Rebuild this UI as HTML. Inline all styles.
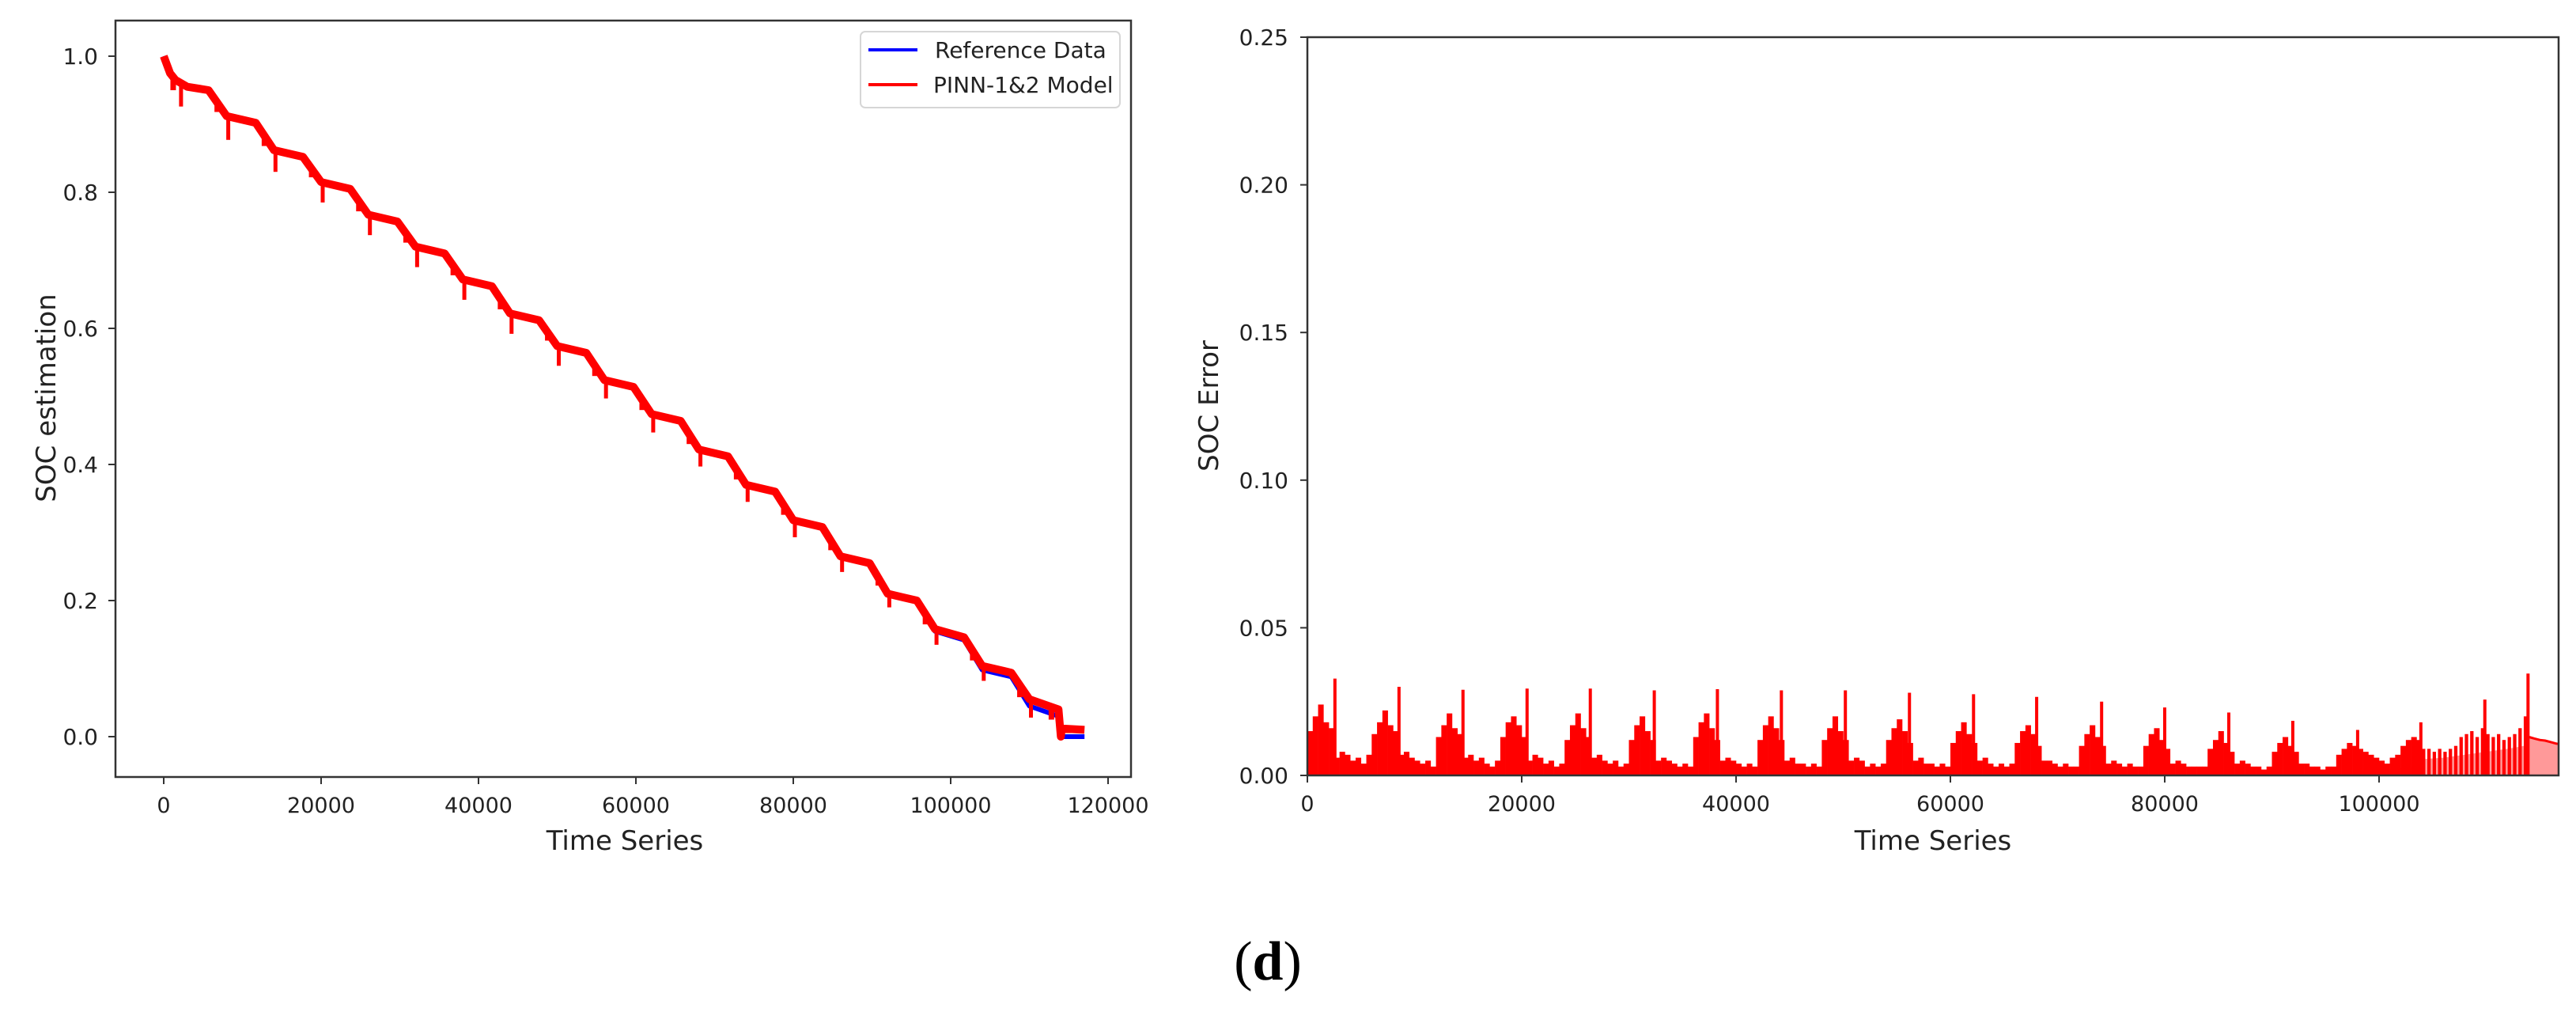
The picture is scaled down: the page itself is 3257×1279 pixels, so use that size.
<!DOCTYPE html>
<html><head><meta charset="utf-8"><style>
html,body{margin:0;padding:0;background:#fff;}
svg{display:block;font-family:"DejaVu Sans","Liberation Sans",sans-serif;}
</style></head><body>
<svg id="fig" width="3257" height="1279" viewBox="0 0 3257 1279" xmlns="http://www.w3.org/2000/svg">
<rect width="3257" height="1279" fill="#fff"/>
<g id="left"></g>
<g id="right"></g>
<text x="1603" y="1238" text-anchor="middle" font-family="Liberation Serif, serif" font-size="70"><tspan>(</tspan><tspan font-weight="bold">d</tspan><tspan>)</tspan></text>
</svg>
<script>
// ---------- Left chart data ----------
const refX = [0,800,1500,3000,5700,8000,11700,14000,17700,20000,23700,26000,29700,32000,35700,38000,41700,44000,47700,50000,53700,56000,59700,62000,65700,68000,71700,74000,77700,80000,83700,86000,89700,92000,95700,98000,101700,104000,107700,110000,113700,114000,117000];
const refY = [1.0,0.975,0.965,0.955,0.95,0.912,0.902,0.862,0.852,0.815,0.805,0.767,0.757,0.72,0.71,0.672,0.662,0.622,0.612,0.574,0.564,0.524,0.514,0.474,0.464,0.422,0.412,0.37,0.36,0.318,0.308,0.265,0.255,0.21,0.2,0.155,0.142,0.098,0.088,0.045,0.03,0.0,0.0];
const predX = [0,800,1500,3000,5700,8000,11700,14000,17700,20000,23700,26000,29700,32000,35700,38000,41700,44000,47700,50000,53700,56000,59700,62000,65700,68000,71700,74000,77700,80000,83700,86000,89700,92000,95700,98000,101700,104000,107700,110000,113700,114000,114100,117000];
const predY = [1.0,0.975,0.965,0.955,0.95,0.912,0.902,0.862,0.852,0.815,0.805,0.767,0.757,0.72,0.71,0.672,0.662,0.622,0.612,0.574,0.564,0.524,0.514,0.474,0.464,0.422,0.412,0.37,0.36,0.318,0.308,0.265,0.255,0.21,0.2,0.158,0.146,0.104,0.094,0.055,0.04,0.0,0.012,0.01];
const dipX = [2200,8200,14200,20200,26200,32200,38200,44200,50200,56200,62200,68200,74200,80200,86200,92200,98200,104200,110200,114000];
const dipY = [0.926,0.877,0.830,0.785,0.737,0.690,0.642,0.592,0.545,0.497,0.447,0.397,0.345,0.293,0.242,0.190,0.135,0.082,0.028,0.0];
const dip2X = [1200,6800,12800,18800,24800,30800,36800,42800,48800,54800,60800,66800,72800,78800,84800,90800,96800,102800,108800,112800];
const dip2Y = [0.950,0.918,0.868,0.822,0.772,0.726,0.678,0.628,0.582,0.530,0.480,0.430,0.378,0.326,0.274,0.222,0.165,0.112,0.058,0.025];
const leftXTicks = [0,20000,40000,60000,80000,100000,120000];
const leftYTicks = [0.0,0.2,0.4,0.6,0.8,1.0];
const leftYLabels = ["0.0","0.2","0.4","0.6","0.8","1.0"];

// ---------- Right chart data ----------
const errStep = 500;
const errY = [
0.015,0.020,0.024,0.018,0.016,0.006,0.008,0.007,0.005,0.006,0.004,0.007,
0.014,0.018,0.022,0.017,0.015,0.007,0.008,0.006,0.005,0.004,0.005,0.003,
0.013,0.017,0.021,0.016,0.014,0.006,0.007,0.005,0.006,0.004,0.003,0.005,
0.013,0.018,0.020,0.017,0.013,0.005,0.007,0.006,0.004,0.005,0.003,0.004,
0.012,0.017,0.021,0.016,0.013,0.006,0.007,0.005,0.004,0.005,0.003,0.004,
0.012,0.017,0.020,0.015,0.012,0.005,0.006,0.005,0.004,0.003,0.004,0.003,
0.013,0.018,0.021,0.016,0.012,0.005,0.006,0.005,0.004,0.003,0.004,0.003,
0.012,0.017,0.020,0.016,0.012,0.005,0.006,0.004,0.004,0.003,0.004,0.003,
0.012,0.016,0.020,0.015,0.012,0.005,0.006,0.005,0.003,0.004,0.003,0.004,
0.012,0.016,0.019,0.015,0.011,0.005,0.006,0.004,0.004,0.003,0.004,0.003,
0.011,0.015,0.018,0.014,0.011,0.005,0.006,0.004,0.003,0.004,0.003,0.004,
0.011,0.015,0.017,0.014,0.010,0.005,0.005,0.004,0.003,0.004,0.003,0.003,
0.010,0.014,0.017,0.013,0.010,0.004,0.005,0.004,0.003,0.004,0.003,0.003,
0.010,0.014,0.016,0.012,0.009,0.004,0.005,0.004,0.003,0.003,0.003,0.003,
0.009,0.012,0.015,0.011,0.008,0.004,0.005,0.004,0.003,0.003,0.002,0.003,
0.008,0.011,0.013,0.010,0.008,0.004,0.004,0.003,0.003,0.002,0.003,0.003,
0.007,0.009,0.011,0.010,0.009,0.008,0.007,0.006,0.005,0.004,0.006,0.007,
0.010,0.012,0.013,0.012,0.009,0.009,0.008,0.009,0.008,0.009,0.010,0.013,
0.014,0.015,0.013,0.016,0.014,0.013,0.014,0.012,0.013,0.014,0.016,0.020];
const tailX = [114000,114500,115000,115500,116000,116500,117000];
const tailY = [0.013,0.0125,0.012,0.0118,0.0113,0.0108,0.0105];
const pinkX = [96000,98000,100000,103500,104000,106000,108000,110000,112000,113500,114000,117000];
const pinkY = [0,0.001,0.002,0.003,0.0055,0.006,0.007,0.008,0.009,0.010,0.013,0.0105];
const spikeX = [2570,8550,14520,20500,26400,32370,38260,44230,50200,56180,62160,68050,74110,80000,85980,91950,98000,103900,109870,113900];
const spikeY = [0.0328,0.030,0.029,0.0294,0.0294,0.0288,0.0292,0.0288,0.0288,0.028,0.0275,0.0266,0.025,0.023,0.0213,0.0185,0.0154,0.018,0.0257,0.0345];
const rightXTicks = [0,20000,40000,60000,80000,100000];
const rightYTicks = [0.00,0.05,0.10,0.15,0.20,0.25];
const rightYLabels = ["0.00","0.05","0.10","0.15","0.20","0.25"];

const NS = "http://www.w3.org/2000/svg";
function mk(parent, tag, attrs, text){
  const e = document.createElementNS(NS, tag);
  for (const k in attrs) e.setAttribute(k, attrs[k]);
  if (text !== undefined) e.textContent = text;
  parent.appendChild(e);
  return e;
}
const L = {x0:146, x1:1430, y0:26, y1:982};
function xL(v){ return 207 + v*(199/20000); }
function yL(v){ return 931 - v*860; }
const R = {x0:1653, x1:3235, y0:47, y1:980};
function xR(v){ return 1653 + v*(271/20000); }
function yR(v){ return 980 - v*(933/0.25); }
function interp(xs, ys, x){
  for (let i=1;i<xs.length;i++){ if (x<=xs[i]){ const t=(x-xs[i-1])/(xs[i]-xs[i-1]); return ys[i-1]+t*(ys[i]-ys[i-1]); } }
  return ys[ys.length-1];
}

// ----- LEFT -----
const gl = document.getElementById('left');
const clipL = mk(gl,'clipPath',{id:'clipL'}); mk(clipL,'rect',{x:L.x0,y:L.y0,width:L.x1-L.x0,height:L.y1-L.y0});
const plotL = mk(gl,'g',{'clip-path':'url(#clipL)'});
let d = refX.map((x,i)=>(i?'L':'M')+xL(x).toFixed(1)+' '+yL(refY[i]).toFixed(1)).join(' ');
const refLine = mk(plotL,'path',{d:d,fill:'none',stroke:'#0000ff','stroke-width':6,'stroke-linejoin':'round'});


d = predX.map((x,i)=>(i?'L':'M')+xL(x).toFixed(1)+' '+yL(predY[i]).toFixed(1)).join(' ');
const predLine = mk(plotL,'path',{d:d,fill:'none',stroke:'#ff0000','stroke-width':10,'stroke-linejoin':'round'});


dipX.forEach((x,i)=>{
  const top = interp(predX,predY,x);
  const s = mk(plotL,'line',{x1:xL(x),x2:xL(x),y1:yL(top),y2:yL(dipY[i]),stroke:'#ff0000','stroke-width':5});
  
  
});
dip2X.forEach((x,i)=>{
  const top = interp(predX,predY,x);
  const s = mk(plotL,'line',{x1:xL(x),x2:xL(x),y1:yL(top),y2:yL(dip2Y[i]),stroke:'#ff0000','stroke-width':7});
  
  
});
const frameL = mk(gl,'rect',{x:L.x0,y:L.y0,width:L.x1-L.x0,height:L.y1-L.y0,fill:'none',stroke:'#333','stroke-width':2.5});


leftXTicks.forEach(v=>{
  mk(gl,'line',{x1:xL(v),x2:xL(v),y1:L.y1,y2:L.y1+9,stroke:'#333','stroke-width':2});
  const t = mk(gl,'text',{x:xL(v),y:L.y1+45,'text-anchor':'middle','font-size':27,fill:'#222'},String(v));
  
  
});
leftYTicks.forEach((v,i)=>{
  mk(gl,'line',{x1:L.x0-9,x2:L.x0,y1:yL(v),y2:yL(v),stroke:'#333','stroke-width':2});
  const t = mk(gl,'text',{x:L.x0-22,y:yL(v)+10,'text-anchor':'end','font-size':28,fill:'#222'},leftYLabels[i]);
  
  
});
const xtL = mk(gl,'text',{x:790,y:1074,'text-anchor':'middle','font-size':34,fill:'#222'},'Time Series');


const ytL = mk(gl,'text',{x:0,y:0,'text-anchor':'middle','font-size':34,fill:'#222',transform:'translate(70,503) rotate(-90)'},'SOC estimation');


const lg = mk(gl,'g',{});


mk(lg,'rect',{x:1088,y:40,width:328,height:96,rx:6,fill:'#fff','fill-opacity':0.85,stroke:'#d6d6d6','stroke-width':2});
const le1 = mk(lg,'g',{});


mk(le1,'line',{x1:1098,x2:1160,y1:63,y2:63,stroke:'#0000ff','stroke-width':4});
mk(le1,'text',{x:1182,y:73,'font-size':28,fill:'#222'},'Reference Data');
const le2 = mk(lg,'g',{});


mk(le2,'line',{x1:1098,x2:1160,y1:107,y2:107,stroke:'#ff0000','stroke-width':4});
mk(le2,'text',{x:1180,y:117,'font-size':28,fill:'#222'},'PINN-1&2 Model');

// ----- RIGHT -----
const gr = document.getElementById('right');
const clipR = mk(gr,'clipPath',{id:'clipR'}); mk(clipR,'rect',{x:R.x0,y:R.y0,width:R.x1-R.x0,height:R.y1-R.y0});
const plotR = mk(gr,'g',{'clip-path':'url(#clipR)'});
let pd = 'M'+xR(pinkX[0])+' '+yR(0)+' '+pinkX.map((x,i)=>'L'+xR(x).toFixed(1)+' '+yR(pinkY[i]).toFixed(1)).join(' ')+' L'+xR(pinkX[pinkX.length-1])+' '+yR(0)+' Z';
const pink = mk(plotR,'path',{d:pd,fill:'#ff9999',stroke:'none'});


errY.forEach((v,i)=>{
  const x = i*errStep;
  const w = (x >= 104000) ? (xR(errStep)-xR(0)-2.5) : (xR(errStep)-xR(0)+0.3);
  const b = mk(plotR,'rect',{x:xR(x),y:yR(v),width:w,height:yR(0)-yR(v),fill:'#ff0000'});
  
  
});
d = tailX.map((x,i)=>(i?'L':'M')+xR(x).toFixed(1)+' '+yR(tailY[i]).toFixed(1)).join(' ');
const tail = mk(plotR,'path',{d:d,fill:'none',stroke:'#ff0000','stroke-width':3});


spikeX.forEach((x,i)=>{
  const s = mk(plotR,'line',{x1:xR(x),x2:xR(x),y1:yR(0),y2:yR(spikeY[i]),stroke:'#ff0000','stroke-width':4});
  
  
});
const frameR = mk(gr,'rect',{x:R.x0,y:R.y0,width:R.x1-R.x0,height:R.y1-R.y0,fill:'none',stroke:'#333','stroke-width':2.5});


rightXTicks.forEach(v=>{
  mk(gr,'line',{x1:xR(v),x2:xR(v),y1:R.y1,y2:R.y1+9,stroke:'#333','stroke-width':2});
  const t = mk(gr,'text',{x:xR(v),y:R.y1+45,'text-anchor':'middle','font-size':27,fill:'#222'},String(v));
  
  
});
rightYTicks.forEach((v,i)=>{
  mk(gr,'line',{x1:R.x0-9,x2:R.x0,y1:yR(v),y2:yR(v),stroke:'#333','stroke-width':2});
  const t = mk(gr,'text',{x:R.x0-24,y:yR(v)+10,'text-anchor':'end','font-size':28,fill:'#222'},rightYLabels[i]);
  
  
});
const xtR = mk(gr,'text',{x:2444,y:1074,'text-anchor':'middle','font-size':34,fill:'#222'},'Time Series');


const ytR = mk(gr,'text',{x:0,y:0,'text-anchor':'middle','font-size':34,fill:'#222',transform:'translate(1540,513) rotate(-90)'},'SOC Error');


</script>
</body></html>
